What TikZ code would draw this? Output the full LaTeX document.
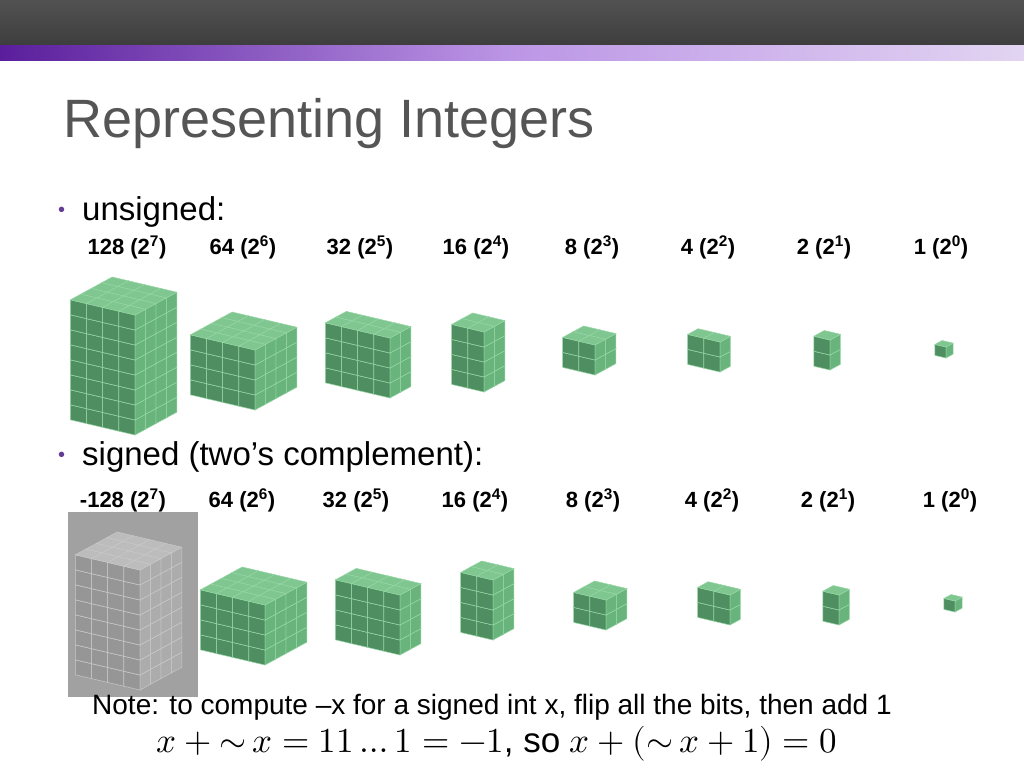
\documentclass[tikz,border=0pt]{standalone}
\usepackage{fontspec}
\usepackage{unicode-math}
\setmainfont{Liberation Sans}
\definecolor{gL}{RGB}{78,142,96}
\definecolor{gR}{RGB}{104,180,124}
\definecolor{gT}{RGB}{128,198,144}
\definecolor{gE}{RGB}{150,215,165}
\definecolor{kL}{RGB}{150,150,150}
\definecolor{kR}{RGB}{172,172,172}
\definecolor{kT}{RGB}{188,188,188}
\definecolor{kE}{RGB}{200,200,200}
\definecolor{titlec}{RGB}{85,85,85}
\definecolor{bul}{RGB}{100,60,150}
\tikzset{lbl/.style={font=\bfseries\fontsize{22}{26}\selectfont, anchor=base}}
\newcommand\stack[8]{%
\pgfmathtruncatemacro\ia{#5-1}\pgfmathtruncatemacro\jb{#6-1}\pgfmathtruncatemacro\kc{#7-1}%
\begin{scope}[shift={(#1,#2)}]
\begin{scope}[x={({0.55*#3*1pt},{0.3*#3*1pt})},y={({-0.85*#3*1pt},{0.2*#3*1pt})},z={(0pt,{#4*1pt})},line width=0.5pt,draw=#8E]
\foreach \i in {\ia,...,0}{\foreach \j in {\jb,...,0}{\foreach \k in {0,...,\kc}{
\filldraw[fill=#8L] (\i,\j,\k) -- (\i,\j+1,\k) -- (\i,\j+1,\k+1) -- (\i,\j,\k+1) -- cycle;
\filldraw[fill=#8R] (\i,\j,\k) -- (\i+1,\j,\k) -- (\i+1,\j,\k+1) -- (\i,\j,\k+1) -- cycle;
\filldraw[fill=#8T] (\i,\j,\k+1) -- (\i+1,\j,\k+1) -- (\i+1,\j+1,\k+1) -- (\i,\j+1,\k+1) -- cycle;
}}}
\end{scope}
\end{scope}}
\begin{document}
\begin{tikzpicture}[x=1pt,y=-1pt]
\useasboundingbox (0,0) rectangle (1024,768);
\fill[white] (0,0) rectangle (1024,768);
\shade[top color=black!68,bottom color=black!76] (0,0) rectangle (1024,46);
\shade[left color={rgb,255:red,90;green,30;blue,156},right color={rgb,255:red,226;green,212;blue,242},middle color={rgb,255:red,188;green,150;blue,230}] (0,46) rectangle (1024,60);
\node[anchor=base west,text=titlec,font=\fontsize{54}{60}\selectfont,inner sep=0] (title) at (63,137) {Representing Integers};
\node[anchor=base west,text=bul,font=\fontsize{20}{22}\selectfont,inner sep=0] (b1) at (58,216) {•};
\node[anchor=base west,font=\fontsize{33}{36}\selectfont,inner sep=0] (u) at (82,220) {unsigned:};
\node[anchor=base west,text=bul,font=\fontsize{20}{22}\selectfont,inner sep=0] (b2) at (58,461) {•};
\node[anchor=base west,font=\fontsize{33}{36}\selectfont,inner sep=0] (s) at (82,465) {signed (two{\char39}s complement):};
\foreach \xx/\t [count=\n] in {127/128 (2\textsuperscript{7}),243/64 (2\textsuperscript{6}),360/32 (2\textsuperscript{5}),476/16 (2\textsuperscript{4}),592/8 (2\textsuperscript{3}),708/4 (2\textsuperscript{2}),824/2 (2\textsuperscript{1}),941/1 (2\textsuperscript{0})}
  \node[lbl] (ua\n) at (\xx,254) {\t};
\foreach \xx/\t [count=\n] in {123/-128 (2\textsuperscript{7}),242/64 (2\textsuperscript{6}),356/32 (2\textsuperscript{5}),475/16 (2\textsuperscript{4}),593/8 (2\textsuperscript{3}),712/4 (2\textsuperscript{2}),828/2 (2\textsuperscript{1}),950/1 (2\textsuperscript{0})}
  \node[lbl] (sa\n) at (\xx,507) {\t};
% unsigned stacks
\stack{135}{435}{19}{15}{4}{4}{8}{g}
\stack{255}{410}{19}{15}{4}{4}{4}{g}
\stack{390}{398}{19}{15}{2}{4}{4}{g}
\stack{484}{392}{19}{15}{2}{2}{4}{g}
\stack{595}{375}{19}{15}{2}{2}{2}{g}
\stack{720}{372}{19}{15}{1}{2}{2}{g}
\stack{830}{370}{19}{15}{1}{1}{2}{g}
\stack{946}{358}{13}{11}{1}{1}{1}{g}
% signed stacks
\fill[black!37] (68,512) rectangle (198,697);
\stack{140}{690}{19}{15}{4}{4}{8}{k}
\stack{265}{665}{19}{15}{4}{4}{4}{g}
\stack{400}{655}{19}{15}{2}{4}{4}{g}
\stack{493}{640}{19}{15}{2}{2}{4}{g}
\stack{606}{630}{19}{15}{2}{2}{2}{g}
\stack{730}{625}{19}{15}{1}{2}{2}{g}
\stack{839}{625}{19}{15}{1}{1}{2}{g}
\stack{955}{612}{13}{11}{1}{1}{1}{g}
\node[anchor=base west,font=\fontsize{28}{32}\selectfont,inner sep=0] (note) at (92,714) {Note: to compute –x for a signed int x, flip all the bits, then add 1};
\node[anchor=base,font=\fontsize{35}{38}\selectfont,inner sep=0] (eq) at (497,752) {$x + {\sim}\, x = 11\ldots1 = -1$, so $x + ({\sim}\, x + 1) = 0$};
\end{tikzpicture}
\end{document}
